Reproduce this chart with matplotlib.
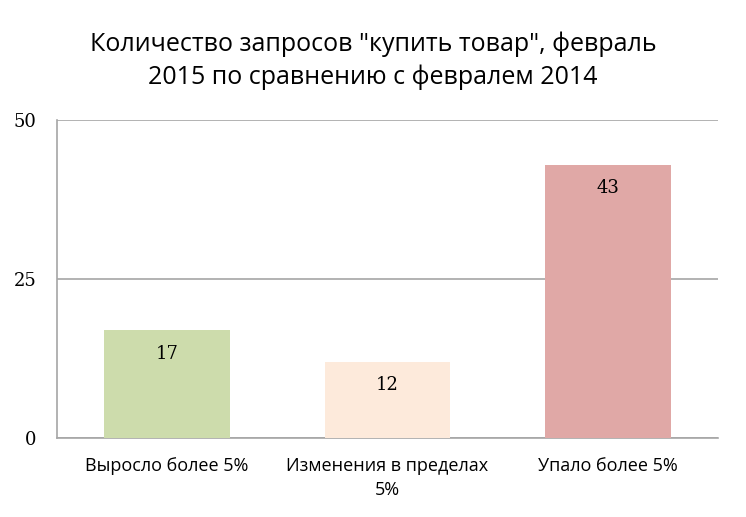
import matplotlib
import matplotlib.pyplot as plt
import numpy as np

matplotlib.use("Agg")

categories = ["Выросло более 5%", "Изменения в пределах\n5%", "Упало более 5%"]
values = [17, 12, 43]
bar_colors = ["#cddcac", "#fdeadb", "#e0a8a6"]
yticks = [0, 25, 50]
title = 'Количество запросов "купить товар", февраль\n2015 по сравнению с февралем 2014'

fig = plt.figure(figsize=(7.46, 5.17), dpi=100)
ax = fig.add_axes([0.0764, 0.1528, 0.886, 0.615])

x = np.arange(len(categories))
ax.bar(x, values, width=0.57, color=bar_colors, zorder=3)

for i, v in enumerate(values):
    ax.annotate(str(v), (x[i], v), xytext=(0, -17), textcoords="offset points",
                ha="center", va="center", fontsize=13, family="DejaVu Serif")

ax.set_xlim(-0.5, len(categories) - 0.5)
ax.set_ylim(0, 50)
ax.set_yticks(yticks)
ax.set_yticklabels([str(t) for t in yticks], family="DejaVu Serif", fontsize=13)
ax.set_xticks(x)
ax.set_xticklabels(categories, family="Open Sans", fontsize=13, va="top",
                   linespacing=1.4)
ax.tick_params(axis="y", length=0, pad=15)
ax.tick_params(axis="x", length=0, pad=14)

ax.yaxis.grid(True, color="#a6a6a6", linewidth=1.2, zorder=0)
for side in ["top", "right"]:
    ax.spines[side].set_visible(False)
for side in ["left", "bottom"]:
    ax.spines[side].set_color("#a6a6a6")
    ax.spines[side].set_linewidth(1.2)

fig.text(0.5, 0.94, title, ha="center", va="top", fontsize=18,
         family="Open Sans", linespacing=1.4)

plt.savefig("out.png", dpi=100)
plt.close()
